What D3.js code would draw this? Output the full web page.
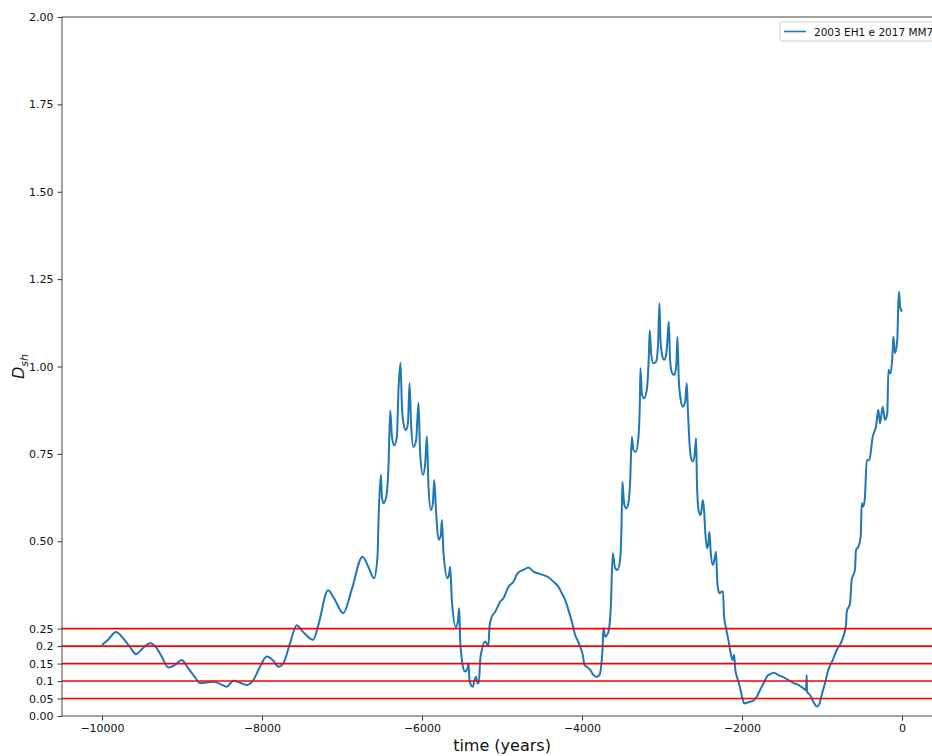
<!DOCTYPE html>
<html>
<head>
<meta charset="utf-8">
<script src="https://cdn.jsdelivr.net/npm/d3@7"></script>
<style>
  html, body { margin: 0; padding: 0; background: #fff; }
  svg { display: block; font-family: "DejaVu Sans", sans-serif; }
</style>
</head>
<body>
<svg id="chart" width="932" height="756"></svg>
<script>
// Shared D-criterion between 2003 EH1 and 2017 MM7 over the past 10 000 years
const years = [
  // slow oscillations before the first close approach
  -10000, -9921, -9825, -9734, -9650, -9575, -9491, -9400,
  -9316, -9254, -9171, -9088, -9004, -8921, -8838, -8775,
  -8691, -8609, -8525, -8441, -8358, -8275, -8191, -8108,
  -8025, -7941, -7858, -7796, -7733, -7650, -7566, -7484,
  -7360, -7296, -7175, -7100, -6984, -6879, -6744, -6671,
  -6600,
  // first hump
  -6556, -6544, -6514, -6501, -6481, -6447, -6419, -6397,
  -6376, -6347, -6314, -6294, -6269, -6251, -6231, -6201,
  -6176, -6156, -6135, -6106, -6073, -6044, -6023, -5989,
  -5960, -5939, -5919, -5889, -5864, -5848, -5823, -5794,
  -5764, -5752, -5731, -5681, -5660, -5648, -5627, -5577,
  -5552, -5535, -5523,
  // valley and arch
  -5510, -5489, -5460, -5432, -5419, -5407, -5389, -5364,
  -5344, -5323, -5307, -5289, -5273, -5252, -5210, -5169,
  -5157, -5127, -5085, -5023, -4982, -4919, -4857, -4807,
  -4732, -4669, -4607, -4544, -4482, -4419, -4357, -4294,
  -4252, -4211, -4169, -4127, -4086, -4057, -4023, -3990,
  -3969, -3940, -3898, -3857, -3815, -3782, -3761, -3744,
  -3732, -3711, -3669, -3640,
  // second hump
  -3615, -3586, -3557, -3524, -3507, -3495, -3474, -3449,
  -3420, -3399, -3377, -3357, -3327, -3294, -3277, -3269,
  -3252, -3224, -3190, -3165, -3153, -3136, -3108, -3074,
  -3049, -3032, -3020, -2999, -2974, -2949, -2932, -2915,
  -2899, -2874, -2845, -2820, -2807, -2790, -2765, -2740,
  -2711, -2690, -2678, -2661, -2640, -2615, -2590, -2574,
  -2562, -2540, -2515, -2490, -2474, -2458, -2437, -2420,
  -2408, -2390, -2365, -2337, -2325, -2308, -2283, -2253,
  -2237, -2224, -2199, -2170, -2141, -2116, -2099, -2083,
  -2058, -2033, -2004,
  // last minimum and the climb to the present
  -1974, -1941, -1899, -1858, -1816, -1783, -1753, -1721,
  -1691, -1649, -1599, -1546, -1483, -1421, -1358, -1296,
  -1233, -1200, -1191, -1187, -1150, -1108, -1066, -1034,
  -1003, -963, -921, -866, -816, -766, -734, -700,
  -691, -650, -629, -588, -575, -546, -516, -504,
  -484, -463, -441, -409, -366, -338, -325, -296,
  -275, -241, -213, -184, -170, -141, -116, -108,
  -88, -59, -46, -36, -24, 0
];
const dsh = [
  0.203, 0.219, 0.240, 0.222, 0.197, 0.177, 0.194, 0.208,
  0.194, 0.170, 0.139, 0.146, 0.160, 0.136, 0.111, 0.094,
  0.096, 0.098, 0.092, 0.084, 0.101, 0.095, 0.089, 0.103,
  0.141, 0.170, 0.158, 0.141, 0.151, 0.208, 0.260, 0.240,
  0.218, 0.260, 0.360, 0.337, 0.294, 0.361, 0.456, 0.427,
  0.394,

  0.456, 0.556, 0.690, 0.627, 0.609, 0.627, 0.713, 0.874,
  0.799, 0.775, 0.799, 0.933, 1.011, 0.885, 0.837, 0.818,
  0.837, 0.952, 0.828, 0.770, 0.790, 0.896, 0.752, 0.690,
  0.723, 0.801, 0.656, 0.589, 0.609, 0.675, 0.580, 0.504,
  0.518, 0.561, 0.466, 0.394, 0.408, 0.427, 0.332, 0.255,
  0.270, 0.308, 0.217,

  0.179, 0.141, 0.127, 0.136, 0.151, 0.103, 0.089, 0.084,
  0.103, 0.112, 0.094, 0.094, 0.160, 0.189, 0.213, 0.200,
  0.255, 0.284, 0.298, 0.327, 0.337, 0.370, 0.384, 0.408,
  0.418, 0.425, 0.413, 0.408, 0.403, 0.397, 0.384, 0.370,
  0.351, 0.332, 0.303, 0.270, 0.232, 0.217, 0.198, 0.175,
  0.146, 0.141, 0.132, 0.117, 0.112, 0.117, 0.141, 0.189,
  0.251, 0.227, 0.241, 0.313,

  0.466, 0.423, 0.418, 0.446, 0.532, 0.670, 0.609, 0.594,
  0.609, 0.666, 0.799, 0.761, 0.756, 0.799, 0.895, 0.995,
  0.923, 0.909, 0.933, 1.028, 1.104, 1.038, 1.009, 1.014,
  1.066, 1.181, 1.081, 1.033, 1.019, 1.033, 1.076, 1.128,
  1.019, 0.981, 0.976, 1.009, 1.085, 0.961, 0.904, 0.885,
  0.899, 0.952, 0.885, 0.799, 0.742, 0.728, 0.752, 0.795,
  0.656, 0.585, 0.575, 0.618, 0.589, 0.523, 0.480, 0.494,
  0.527, 0.466, 0.432, 0.456, 0.470, 0.380, 0.351, 0.356,
  0.356, 0.284, 0.251, 0.217, 0.179, 0.160, 0.175, 0.132,
  0.108, 0.089, 0.060,

  0.036, 0.038, 0.041, 0.044, 0.055, 0.070, 0.084, 0.098,
  0.112, 0.120, 0.124, 0.117, 0.111, 0.103, 0.095, 0.089,
  0.079, 0.074, 0.117, 0.070, 0.060, 0.041, 0.027, 0.034,
  0.060, 0.094, 0.132, 0.160, 0.189, 0.208, 0.227, 0.260,
  0.298, 0.322, 0.389, 0.418, 0.475, 0.484, 0.513, 0.609,
  0.599, 0.627, 0.732, 0.732, 0.799, 0.818, 0.828, 0.876,
  0.837, 0.885, 0.847, 0.866, 0.990, 0.980, 1.047, 1.085,
  1.038, 1.076, 1.181, 1.214, 1.171, 1.157
];

// Threshold levels drawn as horizontal reference lines
const thresholds = [0.05, 0.1, 0.15, 0.2, 0.25];

// Axis ticks and their labels
const xTicks = [-10000, -8000, -6000, -4000, -2000, 0];
const yTicks = [0, 0.05, 0.1, 0.15, 0.2, 0.25, 0.5, 0.75, 1.0, 1.25, 1.5, 1.75, 2.0];
const yTickLabels = ["0.00", "0.05", "0.1", "0.15", "0.2", "0.25", "0.50", "0.75", "1.00", "1.25", "1.50", "1.75", "2.00"];
const seriesName = "2003 EH1 e 2017 MM7";

const svg = d3.select("#chart");
const margin = { left: 62, top: 17, right: 942, bottom: 716 };

const x = d3.scaleLinear().domain([-10500, 500]).range([margin.left, margin.right]);
const y = d3.scaleLinear().domain([0, 2]).range([margin.bottom, margin.top]);

const clipId = "plot-clip";
svg.append("defs").append("clipPath").attr("id", clipId)
  .append("rect")
  .attr("x", margin.left).attr("y", margin.top)
  .attr("width", margin.right - margin.left).attr("height", margin.bottom - margin.top);

const plot = svg.append("g").attr("clip-path", `url(#${clipId})`);

// Series line
const points = years.map((t, i) => [t, dsh[i]]);
plot.append("path")
  .datum(points)
  .attr("fill", "none")
  .attr("stroke", "#1f77b4")
  .attr("stroke-width", 2)
  .attr("stroke-linejoin", "round")
  .attr("d", d3.line().curve(d3.curveMonotoneX).x(d => x(d[0])).y(d => y(d[1])));

// Red threshold lines across the whole plot
plot.selectAll("line.thr")
  .data(thresholds)
  .enter().append("line")
  .attr("class", "thr")
  .attr("x1", margin.left).attr("x2", margin.right)
  .attr("y1", d => y(d)).attr("y2", d => y(d))
  .attr("stroke", "#ff0000")
  .attr("stroke-width", 1.6);

// Axes
const fmtMinus = d => (d < 0 ? "\u2212" + Math.abs(d) : String(d));
const xAxis = d3.axisBottom(x).tickValues(xTicks).tickFormat(fmtMinus).tickSize(4.5).tickPadding(4);
const yAxis = d3.axisLeft(y).tickValues(yTicks)
  .tickFormat((d, i) => yTickLabels[i]).tickSize(4.5).tickPadding(4);

const gx = svg.append("g").attr("transform", `translate(0,${margin.bottom})`).call(xAxis);
const gy = svg.append("g").attr("transform", `translate(${margin.left},0)`).call(yAxis);

[gx, gy].forEach(g => {
  g.select(".domain").remove();
  g.selectAll(".tick line").attr("stroke", "#222").attr("stroke-width", 0.9);
  g.selectAll(".tick text").attr("fill", "#111").attr("font-size", 11)
    .attr("font-family", "DejaVu Sans, sans-serif");
});

// Spines
const addLine = (x1, y1, x2, y2) => svg.append("line")
  .attr("x1", x1).attr("y1", y1).attr("x2", x2).attr("y2", y2)
  .attr("stroke", "#444").attr("stroke-width", 1);
addLine(margin.left, margin.top, margin.left, margin.bottom);
addLine(margin.left, margin.bottom, margin.right, margin.bottom);
addLine(margin.left, margin.top, margin.right, margin.top);
addLine(margin.right, margin.top, margin.right, margin.bottom);

// Axis titles
svg.append("text")
  .attr("x", (margin.left + margin.right) / 2)
  .attr("y", 751)
  .attr("text-anchor", "middle")
  .attr("font-size", 16)
  .attr("fill", "#111")
  .text("time (years)");

const yl = svg.append("text")
  .attr("transform", `translate(24,${(margin.top + margin.bottom) / 2}) rotate(-90)`)
  .attr("text-anchor", "middle")
  .attr("font-size", 16)
  .attr("fill", "#111");
yl.append("tspan").attr("font-style", "italic").text("D");
yl.append("tspan").attr("font-style", "italic").attr("font-size", 11).attr("dy", 4).text("sh");

// Legend
const lg = svg.append("g").attr("transform", "translate(780,22)");
lg.append("rect")
  .attr("x", 0).attr("y", 0).attr("width", 170).attr("height", 19).attr("rx", 2)
  .attr("fill", "#fff").attr("fill-opacity", 0.8)
  .attr("stroke", "#d0d0d0").attr("stroke-width", 1);
lg.append("line")
  .attr("x1", 4).attr("x2", 26).attr("y1", 9.5).attr("y2", 9.5)
  .attr("stroke", "#1f77b4").attr("stroke-width", 1.6);
lg.append("text")
  .attr("x", 34).attr("y", 13.5)
  .attr("font-size", 10.5).attr("fill", "#111")
  .text(seriesName);
</script>
</body>
</html>
